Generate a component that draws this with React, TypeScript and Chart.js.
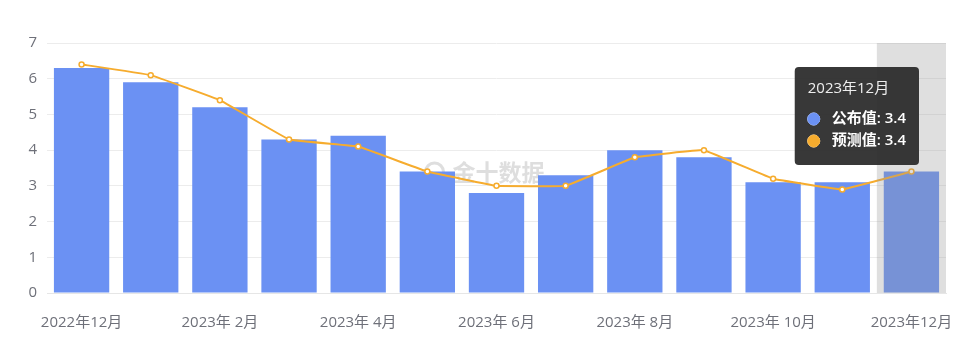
import React, { useEffect, useRef } from "react";
import { Chart, registerables } from "chart.js";

Chart.register(...registerables);

const categories = [
  "2022年12月", "2023年 1月", "2023年 2月", "2023年 3月", "2023年 4月", "2023年 5月",
  "2023年 6月", "2023年 7月", "2023年 8月", "2023年 9月", "2023年 10月", "2023年 11月", "2023年12月",
];
const published = [6.3, 5.9, 5.2, 4.3, 4.4, 3.4, 2.8, 3.3, 4.0, 3.8, 3.1, 3.1, 3.4];
const forecast = [6.4, 6.1, 5.4, 4.3, 4.1, 3.4, 3.0, 3.0, 3.8, 4.0, 3.2, 2.9, 3.4];
const yTicks = [0, 1, 2, 3, 4, 5, 6, 7];
const activeIndex = 12;
const FONT = "'Open Sans', 'Noto Sans CJK SC', sans-serif";

export default function App() {
  const ref = useRef<HTMLCanvasElement | null>(null);

  useEffect(() => {
    document.body.style.margin = "0";
    const canvas = ref.current;
    if (!canvas) return;

    const overlayPlugin = {
      id: "overlay",
      beforeDatasetsDraw(chart: any) {
        const { ctx, chartArea } = chart;
        ctx.save();
        ctx.fillStyle = "rgba(190,190,190,0.5)";
        ctx.font = `bold 23px 'Noto Sans CJK SC', sans-serif`;
        ctx.textAlign = "left";
        ctx.textBaseline = "middle";
        const cx = (chartArea.left + chartArea.right) / 2;
        const cy = 172;
        ctx.lineWidth = 3;
        ctx.strokeStyle = "rgba(190,190,190,0.5)";
        ctx.beginPath();
        ctx.arc(cx - 62, cy, 9, 0, Math.PI * 2);
        ctx.stroke();
        ctx.fillText("金十数据", cx - 44, cy);
        ctx.restore();
      },
      afterDatasetsDraw(chart: any) {
        const { ctx, chartArea } = chart;
        const xs = chart.scales.x;
        const w = (chartArea.right - chartArea.left) / categories.length;
        const c = xs.getPixelForValue(activeIndex);
        ctx.save();
        ctx.fillStyle = "rgba(150,150,150,0.3)";
        ctx.fillRect(c - w / 2, chartArea.top, w, chartArea.bottom - chartArea.top);
        ctx.restore();
      },
    };

    (Chart as any).registry.plugins.get("tooltip").positioners.fixedPos = function () {
      const ch = (this as any).chart;
      return { x: ch.chartArea.right - 31, y: 67 };
    };

    const chart = new Chart(canvas, {
      type: "bar",
      data: {
        labels: categories,
        datasets: [
          {
            type: "line",
            label: "预测值",
            data: forecast,
            borderColor: "#f6ac2e",
            backgroundColor: "#f6ac2e",
            borderWidth: 2,
            pointRadius: 2.5,
            pointBorderWidth: 1.5,
            pointBackgroundColor: "#ffffff",
            pointBorderColor: "#f6ac2e",
            tension: 0.05,
            order: 0,
          } as any,
          {
            type: "bar",
            label: "公布值",
            data: published,
            backgroundColor: "#6b91f3",
            borderWidth: 0,
            categoryPercentage: 0.8,
            barPercentage: 1,
            order: 1,
          },
        ],
      },
      options: {
        animation: false,
        responsive: false,
        events: [],
        layout: { padding: { top: 43, right: 34, left: 0, bottom: 0 } },
        scales: {
          x: {
            grid: { display: false, drawTicks: false },
            border: { display: true, color: "#e6e6e6" },
            ticks: {
              autoSkip: false,
              maxRotation: 0,
              padding: 21,
              color: "#6e7079",
              font: { size: 15, family: FONT },
              callback: (_v: any, i: number) => (i % 2 === 0 ? categories[i] : ""),
            },
            afterFit: (s: any) => { s.height = 61; },
          },
          y: {
            min: 0,
            max: 7,
            afterBuildTicks: (s: any) => { s.ticks = yTicks.map((v) => ({ value: v })); },
            grid: { color: "#ececec", drawTicks: false },
            border: { display: false },
            ticks: {
              padding: 10,
              color: "#6e7079",
              font: { size: 15, family: FONT },
            },
            afterFit: (s: any) => { s.width = 47; },
          },
        },
        plugins: {
          legend: { display: false },
          tooltip: {
            enabled: true,
            position: "fixedPos" as any,
            xAlign: "right",
            yAlign: "top",
            caretSize: 0,
            caretPadding: 0,
            cornerRadius: 4,
            backgroundColor: "rgba(45,45,45,0.95)",
            titleColor: "#eeeeee",
            bodyColor: "#ffffff",
            titleFont: { size: 15, family: FONT, weight: "normal" },
            bodyFont: { size: 15, family: FONT, weight: "600" },
            titleMarginBottom: 12,
            bodySpacing: 4,
            padding: { top: 13, bottom: 15, left: 13, right: 13 },
            usePointStyle: true,
            boxWidth: 12,
            boxHeight: 12,
            boxPadding: 10,
            itemSort: (a: any, b: any) => b.datasetIndex - a.datasetIndex,
            callbacks: {
              title: (items: any[]) => categories[items[0].dataIndex],
              label: (item: any) => `${item.dataset.label}: ${item.formattedValue}`,
              labelPointStyle: () => ({ pointStyle: "circle", rotation: 0 }),
              labelColor: (item: any) => {
                const col = item.datasetIndex === 1 ? "#6b91f3" : "#f6ac2e";
                return { borderColor: col, backgroundColor: col, borderWidth: 0 };
              },
            },
          },
        },
      },
      plugins: [overlayPlugin],
    });

    chart.tooltip!.setActiveElements(
      [
        { datasetIndex: 1, index: activeIndex },
        { datasetIndex: 0, index: activeIndex },
      ],
      { x: 0, y: 0 }
    );
    chart.update();

    return () => chart.destroy();
  }, []);

  return (
    <div style={{ position: "fixed", left: 0, top: 0, width: 980, height: 354 }}>
      <canvas ref={ref} width={980} height={354} style={{ width: 980, height: 354, display: "block" }} />
    </div>
  );
}
